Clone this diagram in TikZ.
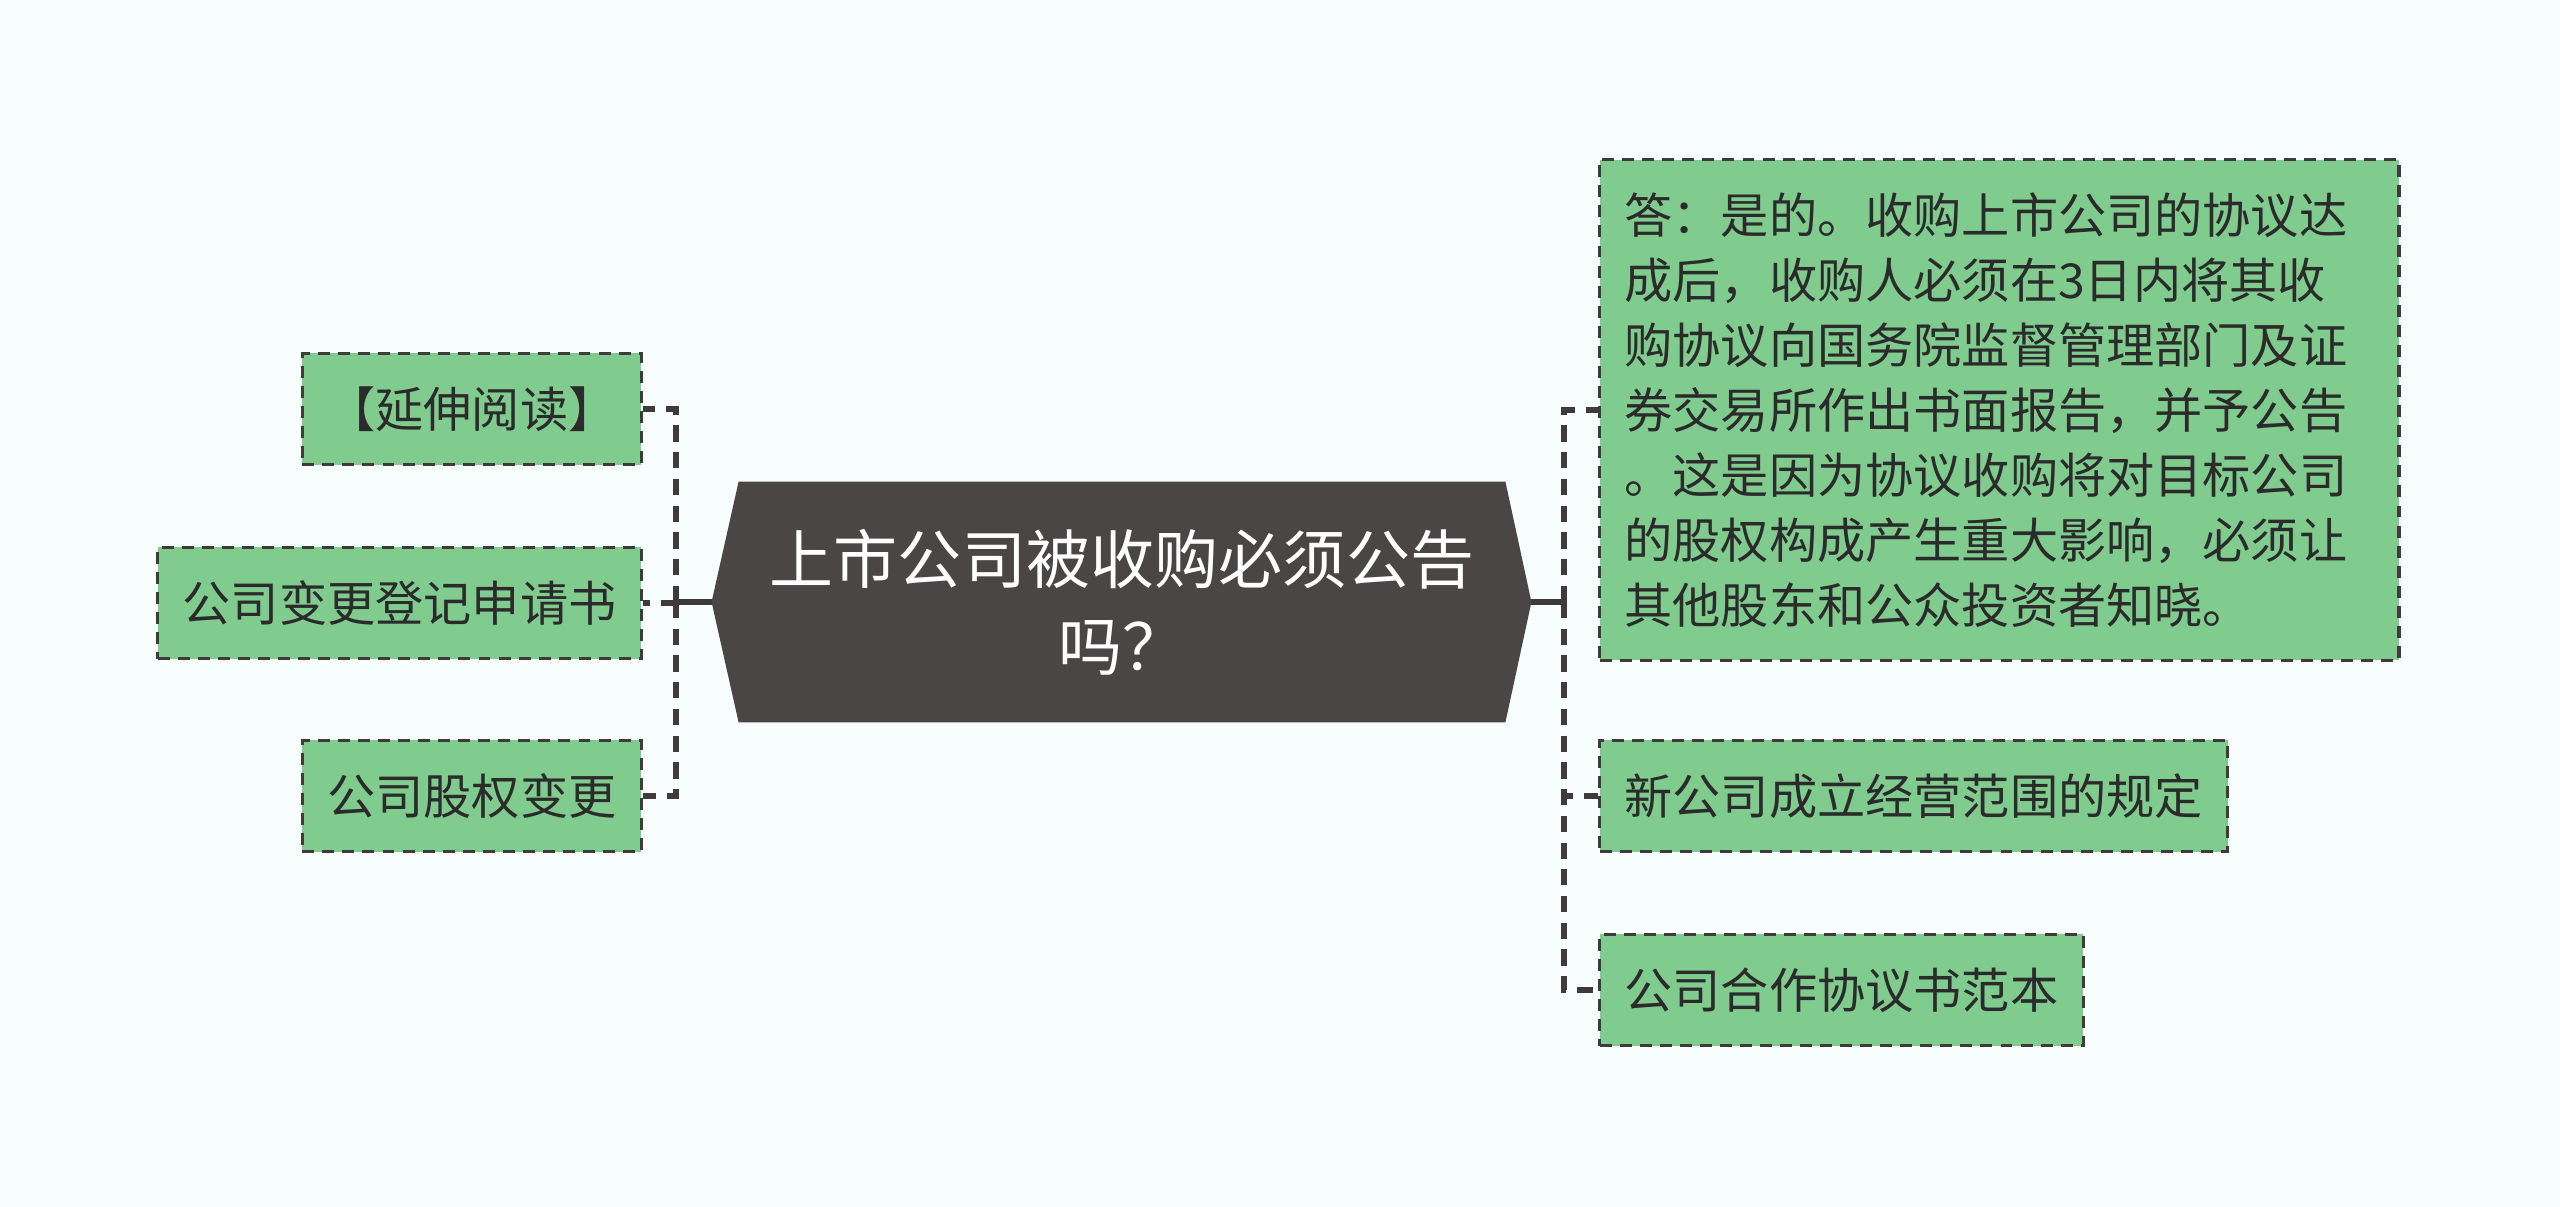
\documentclass[tikz,border=0pt]{standalone}
\usepackage{fontspec}
\setmainfont{Noto Sans CJK SC}
\usetikzlibrary{calc,backgrounds}
\definecolor{bgc}{HTML}{F8FDFD}
\definecolor{leafc}{HTML}{80CC8F}
\definecolor{linec}{HTML}{3F3B3B}
\definecolor{rootc}{HTML}{4B4646}
\definecolor{txtc}{HTML}{2B2B2B}
\tikzstyle{leaf}=[draw=linec,fill=leafc,line width=0.9pt,dash pattern=on 3.4pt off 2.3pt,inner xsep=0.25cm,inner ysep=0pt,minimum height=1.11cm,text=txtc,font=\fontsize{13.7}{18.5}\selectfont]
\tikzstyle{answer}=[leaf,align=left,text width=7.49cm,minimum height=5cm]
\tikzstyle{root}=[inner sep=0pt,minimum width=7.65cm,minimum height=2.39cm,text=white,align=center,font=\fontsize{18.2}{24.7}\selectfont]
\tikzstyle{link}=[draw=linec,line width=1.5pt,dash pattern=on 4.6pt off 3pt]
\tikzstyle{trunk}=[draw=linec,line width=1.5pt]

\begin{document}
\begin{tikzpicture}[x=0.01cm,y=-0.01cm]
    % centre
    \node[root] (root) at (1122,602) {上市公司被收购必须公告\\吗？};
    \coordinate (ltip) at ($(root.west)+(-27,0)$);
    \coordinate (rtip) at ($(root.east)+(26,0)$);
    \coordinate (lbus) at (676,602);
    \coordinate (rbus) at (1564,602);
    \begin{pgfonlayer}{background}
        \fill[bgc] (0,0) rectangle (2560,1207);
        \fill[rootc] (root.north west) -- (root.north east) -- (rtip) -- (root.south east) -- (root.south west) -- (ltip) -- cycle;
    \end{pgfonlayer}
    % feuilles
    \foreach \pos/\name/\txt in {{(643,409)/ext/【延伸阅读】}, {(643,603)/reg/公司变更登记申请书}, {(643,796)/stock/公司股权变更}}
        \node[leaf,anchor=east] (\name) at \pos {\txt};
    \node[answer,anchor=west] (ans) at (1598,410) {答：是的。收购上市公司的协议达\\成后，收购人必须在3日内将其收\\购协议向国务院监督管理部门及证\\券交易所作出书面报告，并予公告\\。这是因为协议收购将对目标公司\\的股权构成产生重大影响，必须让\\其他股东和公众投资者知晓。};
    \foreach \pos/\name/\txt in {{(1598,796)/newco/新公司成立经营范围的规定}, {(1598,990)/coop/公司合作协议书范本}}
        \node[leaf,anchor=west] (\name) at \pos {\txt};
    % liens
    \draw[trunk] (ltip) -- (lbus);
    \draw[trunk] (rtip) -- (rbus);
    \foreach \name in {ext, reg, stock}
        \draw[link] (lbus) |- (\name.east);
    \foreach \name in {ans, newco, coop}
        \draw[link] (rbus) |- (\name.west);
\end{tikzpicture}
\end{document}
